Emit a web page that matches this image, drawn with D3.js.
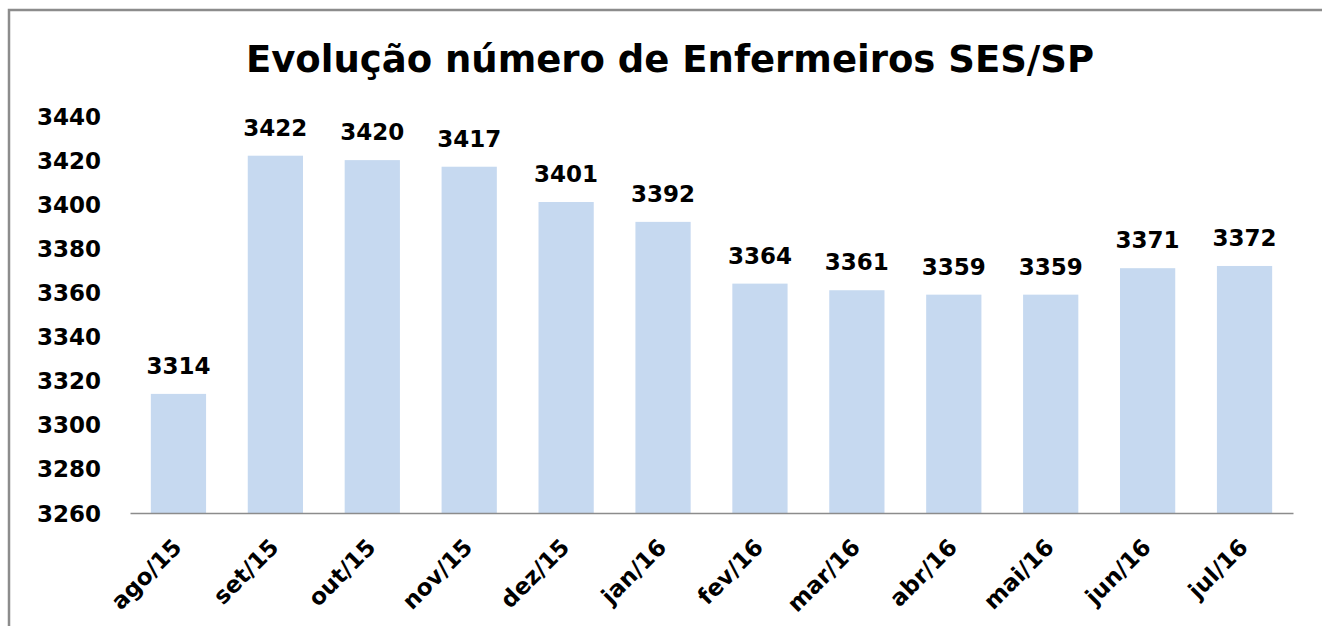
<!DOCTYPE html>
<html lang="pt">
<head>
  <meta charset="UTF-8">
  <title>Evolução número de Enfermeiros SES/SP</title>
  <script src="https://cdn.jsdelivr.net/npm/d3@7"></script>
  <style>
    html, body { margin: 0; padding: 0; background: #fff; }
    svg { display: block; }
    text { font-family: "DejaVu Sans", sans-serif; font-weight: bold; fill: #000; }
  </style>
</head>
<body>
  <svg id="chart"></svg>
  <script>
    // data
    var months = ['ago/15', 'set/15', 'out/15', 'nov/15', 'dez/15', 'jan/16',
      'fev/16', 'mar/16', 'abr/16', 'mai/16', 'jun/16', 'jul/16']
    var nurses = [3314, 3422, 3420, 3417, 3401, 3392, 3364, 3361, 3359, 3359, 3371, 3372]
    var yTicks = [3260, 3280, 3300, 3320, 3340, 3360, 3380, 3400, 3420, 3440]
    var title = 'Evolução número de Enfermeiros SES/SP'

    var width = 1322, height = 626
    var margin = { top: 116, right: 29, bottom: 113, left: 130 }

    var svg = d3.select('#chart').attr('width', width).attr('height', height)

    // frame (clipped by the right and bottom edges in the picture)
    svg.append('rect')
      .attr('x', 9).attr('y', 10)
      .attr('width', width + 10).attr('height', height + 10)
      .attr('fill', 'none').attr('stroke', '#8c8c8c').attr('stroke-width', 2.5)

    svg.append('text')
      .attr('x', 670).attr('y', 72)
      .attr('text-anchor', 'middle')
      .style('font-size', '37px')
      .text(title)

    var x = d3.scaleBand()
      .domain(months)
      .range([margin.left, width - margin.right])
      .paddingInner(0.43)
      .paddingOuter(0.215)

    var y = d3.scaleLinear()
      .domain([3260, 3440])
      .range([height - margin.bottom, margin.top])

    // bars
    svg.append('g').selectAll('rect')
      .data(nurses)
      .join('rect')
      .attr('x', function (d, i) { return x(months[i]) })
      .attr('y', function (d) { return y(d) })
      .attr('width', x.bandwidth())
      .attr('height', function (d) { return y(3260) - y(d) })
      .attr('fill', '#c6d9f0')

    // value labels
    svg.append('g').selectAll('text')
      .data(nurses)
      .join('text')
      .attr('x', function (d, i) { return x(months[i]) + x.bandwidth() / 2 })
      .attr('y', function (d) { return y(d) - 20 })
      .attr('text-anchor', 'middle')
      .style('font-size', '23px')
      .text(function (d) { return d })

    // y axis, labels only
    var yAxis = svg.append('g')
      .attr('transform', 'translate(' + (margin.left - 29) + ',0)')
      .call(d3.axisLeft(y).tickValues(yTicks).tickFormat(d3.format('d'))
        .tickSize(0).tickPadding(0))
    yAxis.select('.domain').remove()
    yAxis.selectAll('text').style('font-size', '23px').attr('dy', '0.35em')

    // x axis
    var xAxis = svg.append('g')
      .attr('transform', 'translate(0,' + y(3260) + ')')
      .call(d3.axisBottom(x).tickSize(0).tickSizeOuter(0).tickPadding(0))
    xAxis.select('.domain').attr('stroke', '#8c8c8c').attr('stroke-width', 1.5)
    xAxis.selectAll('text')
      .style('font-size', '23px')
      .attr('text-anchor', 'end')
      .attr('dy', '0.35em')
      .attr('transform', 'translate(-1,30) rotate(-45)')
  </script>
</body>
</html>
